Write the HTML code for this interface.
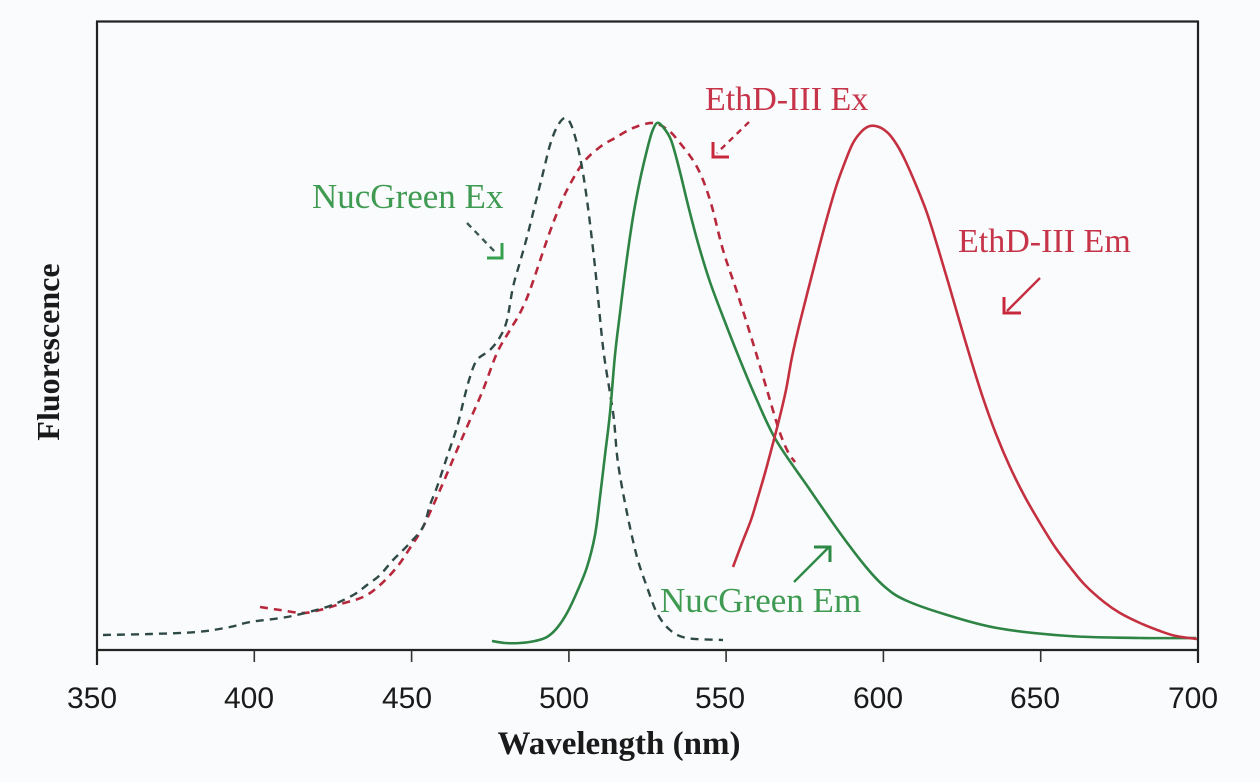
<!DOCTYPE html>
<html>
<head>
<meta charset="utf-8">
<style>
  html,body{margin:0;padding:0;background:#fafbfc;}
  svg{display:block;}
</style>
</head>
<body>
<svg id="chart" width="1260" height="782" viewBox="0 0 1260 782" xmlns="http://www.w3.org/2000/svg">
  <rect x="0" y="0" width="1260" height="782" fill="#fafbfc"/>

  <!-- axes box -->
  <g stroke="#222" fill="none" stroke-width="2.2">
    <line x1="97" y1="21" x2="97" y2="665"/>
    <line x1="96" y1="21.5" x2="1199" y2="21.5"/>
    <line x1="1198" y1="21" x2="1198" y2="663"/>
    <line x1="96" y1="650" x2="1199" y2="650"/>
  </g>
  <g stroke="#333" stroke-width="1.6">
    <line x1="254.3" y1="650" x2="254.3" y2="662"/>
    <line x1="411.6" y1="650" x2="411.6" y2="662"/>
    <line x1="568.9" y1="650" x2="568.9" y2="662"/>
    <line x1="726.1" y1="650" x2="726.1" y2="662"/>
    <line x1="883.4" y1="650" x2="883.4" y2="662"/>
    <line x1="1040.7" y1="650" x2="1040.7" y2="662"/>
  </g>

  <!-- tick labels -->
  <g font-family="'Liberation Sans', 'DejaVu Sans', sans-serif" font-size="30" fill="#1a1a1a" text-anchor="middle">
    <text x="92" y="708">350</text>
    <text x="249" y="708">400</text>
    <text x="407" y="708">450</text>
    <text x="564" y="708">500</text>
    <text x="720" y="708">550</text>
    <text x="878" y="708">600</text>
    <text x="1035" y="708">650</text>
    <text x="1193" y="708">700</text>
  </g>

  <!-- axis titles -->
  <text x="619" y="754" font-family="'Liberation Serif', serif" font-weight="bold" font-size="33" fill="#1a1a1a" text-anchor="middle">Wavelength (nm)</text>
  <text transform="translate(59,352) rotate(-90)" font-family="'Liberation Serif', serif" font-weight="bold" font-size="32" fill="#1a1a1a" text-anchor="middle">Fluorescence</text>

  <!-- EthD-III Ex (dashed red) -->
  <polyline class="sm" fill="none" stroke="#b8283c" stroke-width="2.6" stroke-dasharray="8,6" stroke-linejoin="round"
    points="260,607 280,610 303,613 320,610 337,605 363,597 380,585 397,567 410,548 423,527 440,490 457,450 470,420 483,390 497,353 510,330 520,313 530,290 547,240 557,213 567,190 583,163 600,147 615,138 633,128 653,123 668,130 680,143 697,167 710,200 723,250 737,292 753,343 767,390 779,430 788,452 795,462"/>

  <!-- NucGreen Ex (dashed dark) -->
  <polyline class="sm" fill="none" stroke="#2f4a46" stroke-width="2.4" stroke-dasharray="8,6" stroke-linejoin="round"
    points="103,635 150,634 197,632 230,627 250,622 287,617 320,609 337,603 355,594 367,585 380,575 393,560 408,545 423,527 430,505 437,487 447,457 457,427 465,395 470,377 477,360 490,350 500,337 507,320 513,287 520,262 527,237 535,205 543,173 550,145 557,127 565,118 572,127 580,157 587,200 595,267 603,347 610,393 614,420 618,463 627,513 637,557 647,587 657,613 670,630 687,638 723,640"/>

  <!-- NucGreen Em (solid green) -->
  <polyline class="sm" fill="none" stroke="#2d8444" stroke-width="2.6" stroke-linejoin="round"
    points="492,641 505,643 520,643 535,641 547,637 557,628 567,613 577,592 587,567 595,535 600,497 605,455 610,413 615,355 620,313 626,265 633,217 640,180 647,150 652,132 657,123 663,127 671,140 679,168 688,205 698,243 710,282 725,322 740,360 756,398 776,440 808,487 840,533 866,567 885,587 905,600 944,614 997,628 1069,636 1140,638 1196,638"/>

  <!-- EthD-III Em (solid red) -->
  <polyline class="sm" fill="none" stroke="#c43040" stroke-width="2.6" stroke-linejoin="round"
    points="733,567 742,543 751,520 758,497 765,473 772,447 779,420 786,390 792,357 800,322 814,267 825,225 836,187 845,162 853,143 862,131 870,126 879,127 888,133 897,145 905,160 916,185 927,213 938,248 949,285 960,323 971,360 983,398 996,434 1010,467 1025,497 1040,523 1055,547 1070,567 1085,585 1104,602 1120,613 1140,623 1160,631 1176,636 1197,639"/>

  <!-- labels -->
  <g font-family="'Liberation Serif', serif" font-size="35">
    <text x="312" y="208" fill="#3f9a52">NucGreen Ex</text>
    <text x="660" y="612" fill="#3f9a52">NucGreen Em</text>
  </g>
  <g font-family="'Liberation Serif', serif" font-size="34">
    <text x="705" y="110" fill="#c6344a">EthD-III Ex</text>
    <text x="958" y="252" fill="#c6344a">EthD-III Em</text>
  </g>

  <!-- arrows -->
  <line x1="467" y1="223" x2="497" y2="254" stroke="#3b5a50" stroke-width="2.4" stroke-dasharray="6,5"/>
  <polyline points="502,243 502,258 487,258" fill="none" stroke="#35a04e" stroke-width="3"/>

  <line x1="749" y1="122" x2="717" y2="153" stroke="#b8283c" stroke-width="2.4" stroke-dasharray="6,5"/>
  <polyline points="713,142 713,157 729,157" fill="none" stroke="#c8283c" stroke-width="3"/>

  <line x1="1040" y1="278" x2="1007" y2="311" stroke="#c43040" stroke-width="2.4"/>
  <polyline points="1004,297 1004,313 1021,313" fill="none" stroke="#c8283c" stroke-width="3"/>

  <line x1="794" y1="582" x2="828" y2="548" stroke="#2d8a46" stroke-width="2.4"/>
  <polyline points="814,547 830,547 830,562" fill="none" stroke="#2d8a46" stroke-width="3"/>
</svg>
<script>
(function(){
  var NS="http://www.w3.org/2000/svg";
  var pls=document.querySelectorAll("polyline.sm");
  for(var k=0;k<pls.length;k++){
    var pl=pls[k];
    var raw=pl.getAttribute("points").trim().split(/\s+/);
    var p=raw.map(function(s){var a=s.split(",");return [parseFloat(a[0]),parseFloat(a[1])];});
    var d="M"+p[0][0]+","+p[0][1];
    for(var i=0;i<p.length-1;i++){
      var p0=p[i>0?i-1:0],p1=p[i],p2=p[i+1],p3=p[i+2<p.length?i+2:p.length-1];
      var c1x=p1[0]+(p2[0]-p0[0])/6,c1y=p1[1]+(p2[1]-p0[1])/6;
      var c2x=p2[0]-(p3[0]-p1[0])/6,c2y=p2[1]-(p3[1]-p1[1])/6;
      d+=" C"+c1x.toFixed(2)+","+c1y.toFixed(2)+" "+c2x.toFixed(2)+","+c2y.toFixed(2)+" "+p2[0]+","+p2[1];
    }
    var path=document.createElementNS(NS,"path");
    path.setAttribute("d",d);
    var attrs=["fill","stroke","stroke-width","stroke-dasharray","stroke-linejoin"];
    attrs.forEach(function(a){var v=pl.getAttribute(a);if(v)path.setAttribute(a,v);});
    pl.parentNode.replaceChild(path,pl);
  }
})();
</script>
</body>
</html>
